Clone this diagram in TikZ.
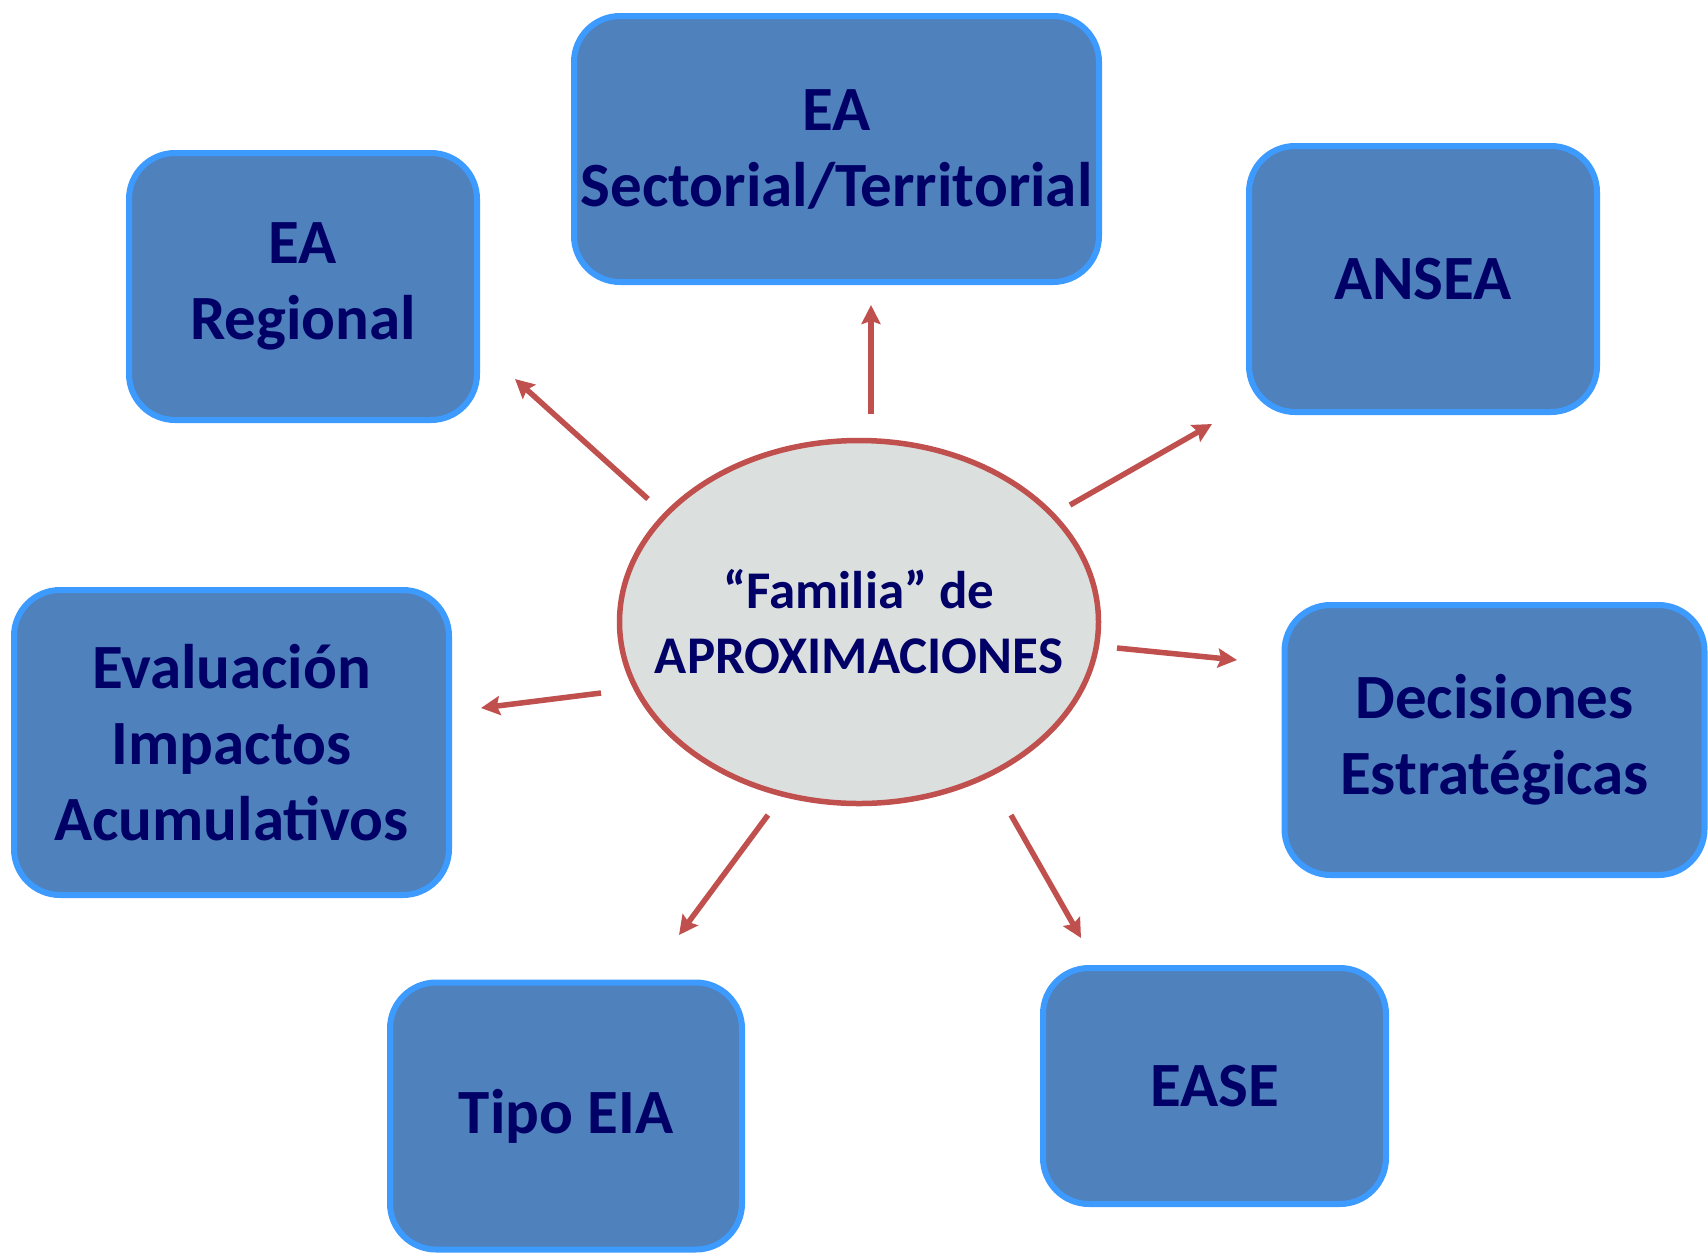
\documentclass[tikz,border=0pt]{standalone}
\usepackage{fontspec}
\setmainfont{Carlito}
\usepackage{xcolor}
\usetikzlibrary{arrows.meta,shapes.geometric}

\definecolor{cajaazul}{HTML}{4F81BD}
\definecolor{bordeazul}{HTML}{3D9BFF}
\definecolor{textonavy}{HTML}{000066}
\definecolor{rojoflecha}{HTML}{C0504D}
\definecolor{grisfondo}{HTML}{DBDFDE}

\tikzset{
  caja/.style = {draw=bordeazul, fill=cajaazul, line width=6pt, rounded corners=46pt,
                 text=textonavy, font=\bfseries\fontsize{63}{76}\selectfont, align=center, inner sep=0pt},
  flecha/.style = {rojoflecha, line width=5.5pt, -{Stealth[length=19pt,width=19pt,inset=3pt]}}
}

\begin{document}
\begin{tikzpicture}[x=1pt, y=-1pt]
        \useasboundingbox (0,0) rectangle (1708,1254);
        % cajas
        \node[caja, minimum width=525pt, minimum height=266pt] (sect) at (836.5,149) {EA\\Sectorial/Territorial};
        \node[caja, minimum width=348pt, minimum height=267pt] (regional) at (303,286.5) {EA\\Regional};
        \node[caja, minimum width=348pt, minimum height=266pt] (ansea) at (1423,279) {ANSEA};
        \node[caja, minimum width=435pt, minimum height=305pt] (acum) at (231.5,742.5) {Evaluación\\Impactos\\Acumulativos};
        \node[caja, minimum width=420pt, minimum height=270pt] (decis) at (1494.5,740) {Decisiones\\Estratégicas};
        \node[caja, minimum width=352pt, minimum height=267pt] (tipo) at (566,1116) {Tipo EIA};
        \node[caja, minimum width=343pt, minimum height=236pt] (ease) at (1214.5,1086) {EASE};
        % centro
        \node[ellipse, draw=rojoflecha, fill=grisfondo, line width=5.5pt, inner sep=0pt,
              minimum width=479pt, minimum height=363pt] (fam) at (859,622) {};
        \node[text=textonavy, font=\bfseries\fontsize{53}{65}\selectfont, align=center] (famtexto) at (fam.center) {“Familia” de\\APROXIMACIONES};
        % flechas
        \coordinate (n1) at (871,414);  \coordinate (p1) at (871,305);
        \coordinate (n2) at (648,499);  \coordinate (p2) at (515,379);
        \coordinate (n3) at (1070,505); \coordinate (p3) at (1212,424);
        \coordinate (n4) at (1117,648); \coordinate (p4) at (1237,660);
        \coordinate (n5) at (601,693);  \coordinate (p5) at (481,708);
        \coordinate (n6) at (768,815);  \coordinate (p6) at (679,935);
        \coordinate (n7) at (1011,815); \coordinate (p7) at (1081,938);
        \draw[flecha] (n1) -- (p1);
        \draw[flecha] (n2) -- (p2);
        \draw[flecha] (n3) -- (p3);
        \draw[flecha] (n4) -- (p4);
        \draw[flecha] (n5) -- (p5);
        \draw[flecha] (n6) -- (p6);
        \draw[flecha] (n7) -- (p7);
\end{tikzpicture}
\end{document}
